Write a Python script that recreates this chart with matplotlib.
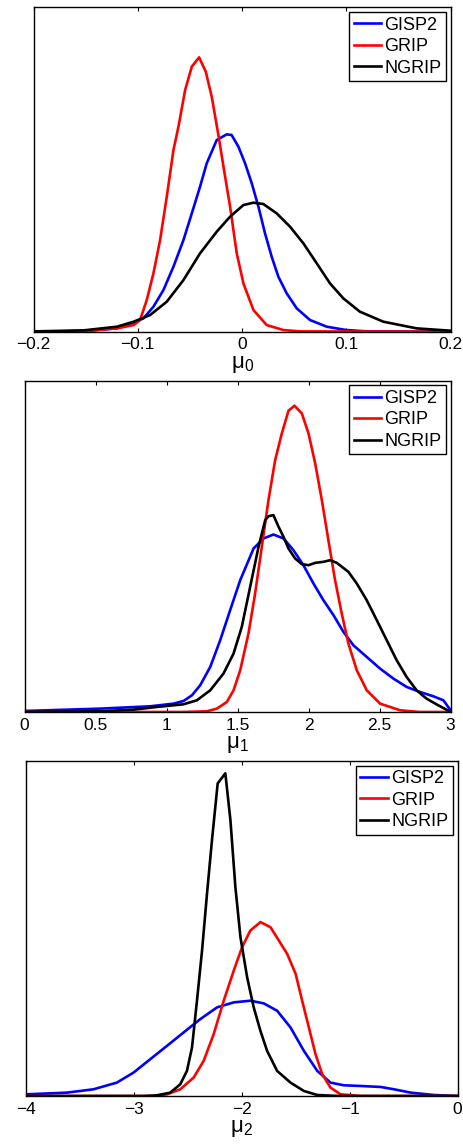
import matplotlib
matplotlib.use("Agg")
import matplotlib.pyplot as plt

plt.rcParams['font.family'] = ['Liberation Sans', 'DejaVu Sans']
plt.rcParams['mathtext.fontset'] = 'custom'
plt.rcParams['mathtext.rm'] = 'Liberation Sans'
plt.rcParams['mathtext.it'] = 'Liberation Sans'

## mu_0 posterior densities (arbitrary units)
mu0_gisp2_x = [-0.2, -0.152, -0.12, -0.104, -0.0946, -0.085, -0.0754, -0.0658, -0.0562, -0.0482,
               -0.0403, -0.0339, -0.0243, -0.0147, -0.010, -0.0035, 0.0029, 0.0093, 0.0157, 0.022,
               0.0284, 0.0348, 0.0428, 0.0524, 0.0652, 0.0812, 0.10, 0.12, 0.2]
mu0_gisp2_y = [0, 2, 10, 27, 40, 75, 125, 195, 275, 355,
               435, 505, 575, 592, 590, 555, 505, 445, 375, 295,
               225, 165, 115, 70, 35, 15, 5, 1, 0]
mu0_grip_x = [-0.2, -0.15, -0.12, -0.104, -0.0978, -0.0914, -0.085, -0.0786, -0.0722, -0.0658,
              -0.061, -0.0546, -0.0482, -0.0412, -0.0348, -0.0291, -0.0227, -0.0173, -0.0115, -0.0051,
              0.0013, 0.0109, 0.0236, 0.0396, 0.0556, 0.2]
mu0_grip_y = [0, 2, 10, 20, 35, 95, 175, 275, 405, 545,
              615, 725, 795, 823, 780, 705, 590, 485, 375, 235,
              145, 65, 20, 5, 1, 0]
mu0_ngrip_x = [-0.2, -0.152, -0.12, -0.104, -0.0882, -0.0722, -0.0562, -0.0403, -0.0243, -0.0115,
               0.0013, 0.0109, 0.0204, 0.0332, 0.046, 0.0588, 0.0716, 0.0843, 0.0971, 0.113,
               0.1355, 0.1674, 0.2]
mu0_ngrip_y = [1, 4, 15, 30, 50, 90, 155, 235, 300, 345,
               380, 387, 383, 355, 315, 265, 205, 145, 100, 60,
               30, 10, 3]

## mu_1
mu1_gisp2_x = [0, 0.532, 0.884, 1.049, 1.119, 1.178, 1.236, 1.307, 1.377, 1.447,
               1.518, 1.612, 1.682, 1.752, 1.823, 1.893, 1.963, 2.034, 2.104, 2.175,
               2.245, 2.315, 2.409, 2.503, 2.597, 2.69, 2.784, 2.878, 2.949, 3.0]
mu1_gisp2_y = [3, 10, 17, 25, 33, 50, 80, 135, 215, 305,
               395, 490, 520, 532, 520, 485, 440, 385, 335, 290,
               240, 200, 165, 130, 100, 75, 60, 47, 35, 5]
mu1_grip_x = [0, 1.119, 1.283, 1.354, 1.424, 1.471, 1.518, 1.576, 1.623, 1.670,
              1.717, 1.764, 1.811, 1.858, 1.900, 1.952, 1.999, 2.046, 2.093, 2.139,
              2.186, 2.233, 2.280, 2.339, 2.409, 2.503, 2.644, 2.78, 3.0]
mu1_grip_y = [0, 0, 2, 10, 30, 65, 125, 235, 355, 495,
              635, 755, 835, 903, 918, 895, 835, 745, 635, 515,
              395, 295, 205, 125, 65, 25, 5, 0, 0]
mu1_ngrip_x = [0, 0.532, 0.767, 0.931, 1.119, 1.213, 1.307, 1.40, 1.471, 1.529,
               1.588, 1.647, 1.694, 1.717, 1.752, 1.788, 1.823, 1.858, 1.905, 1.952,
               1.999, 2.046, 2.104, 2.151, 2.198, 2.28, 2.339, 2.409, 2.48, 2.55,
               2.62, 2.69, 2.76, 2.83, 2.90, 3.0]
mu1_ngrip_y = [0, 2, 7, 15, 23, 35, 65, 115, 175, 255,
               375, 495, 575, 587, 590, 555, 525, 490, 460, 443,
               440, 447, 450, 455, 447, 420, 385, 335, 275, 215,
               155, 105, 65, 40, 23, 0]

## mu_2
mu2_gisp2_x = [-4, -3.622, -3.375, -3.158, -3.003, -2.848, -2.693, -2.539, -2.384, -2.229,
               -2.074, -1.92, -1.796, -1.672, -1.548, -1.424, -1.30, -1.177, -1.053, -0.898,
               -0.712, -0.588, -0.433, -0.217, 0]
mu2_gisp2_y = [5, 10, 20, 40, 70, 110, 150, 190, 230, 265,
               280, 285, 277, 255, 205, 135, 75, 40, 32, 30,
               27, 20, 10, 3, 0]
mu2_grip_x = [-4, -2.8, -2.693, -2.57, -2.446, -2.353, -2.26, -2.167, -2.074, -1.997,
              -1.92, -1.827, -1.734, -1.656, -1.579, -1.50, -1.44, -1.378, -1.316, -1.254,
              -1.177, -1.084, -0.9, 0]
mu2_grip_y = [0, 0, 5, 20, 55, 105, 185, 285, 375, 445,
              495, 520, 505, 465, 425, 365, 285, 205, 125, 65,
              25, 5, 0, 0]
mu2_ngrip_x = [-4, -2.9, -2.786, -2.663, -2.57, -2.508, -2.461, -2.415, -2.368, -2.322,
               -2.276, -2.223, -2.152, -2.105, -2.059, -2.012, -1.95, -1.889, -1.827, -1.765,
               -1.672, -1.548, -1.424, -1.30, -1.1, 0]
mu2_ngrip_y = [0, 0, 2, 10, 35, 75, 145, 285, 435, 605,
               765, 935, 965, 825, 625, 475, 355, 265, 195, 135,
               75, 40, 15, 3, 0, 0]

panels = [
    dict(rect=[0.0722, 0.7103, 0.899, 0.2833], xlim=(-0.2, 0.2), ytop=973,
         ticks=[-0.2, -0.1, 0, 0.1, 0.2], labels=['\u22120.2', '\u22120.1', '0', '0.1', '0.2'],
         xlabel=r'$\mathrm{\mu}_0$',
         curves=[(mu0_gisp2_x, mu0_gisp2_y), (mu0_grip_x, mu0_grip_y), (mu0_ngrip_x, mu0_ngrip_y)]),
    dict(rect=[0.0532, 0.3782, 0.918, 0.2893], xlim=(0, 3), ytop=993,
         ticks=[0, 0.5, 1, 1.5, 2, 2.5, 3], labels=['0', '0.5', '1', '1.5', '2', '2.5', '3'],
         xlabel=r'$\mathrm{\mu}_1$',
         curves=[(mu1_gisp2_x, mu1_gisp2_y), (mu1_grip_x, mu1_grip_y), (mu1_ngrip_x, mu1_ngrip_y)]),
    dict(rect=[0.056, 0.0428, 0.930, 0.2926], xlim=(-4, 0), ytop=1002,
         ticks=[-4, -3, -2, -1, 0], labels=['\u22124', '\u22123', '\u22122', '\u22121', '0'],
         xlabel=r'$\mathrm{\mu}_2$',
         curves=[(mu2_gisp2_x, mu2_gisp2_y), (mu2_grip_x, mu2_grip_y), (mu2_ngrip_x, mu2_ngrip_y)]),
]

names = ['GISP2', 'GRIP', 'NGRIP']
colors = ['#0000ff', '#ff0000', '#000000']

fig = plt.figure(figsize=(4.64, 11.45), dpi=100)

for p in panels:
    ax = fig.add_axes(p['rect'])
    for (x, y), name, c in zip(p['curves'], names, colors):
        ax.plot(x, y, color=c, lw=1.9, label=name, solid_joinstyle='round')
    ax.set_xlim(*p['xlim'])
    ax.set_ylim(0, p['ytop'])
    ax.set_xticks(p['ticks'])
    ax.set_xticklabels(p['labels'])
    ax.set_yticks([])
    ax.tick_params(axis='x', direction='in', top=True, length=3, width=0.8,
                   labelsize=12.5, pad=4)
    for s in ax.spines.values():
        s.set_linewidth(1.0)
    ax.set_xlabel(p['xlabel'], fontsize=16, labelpad=1)
    leg = ax.legend(loc='upper right', fontsize=13, frameon=True, fancybox=False,
                    framealpha=1, edgecolor='black', handlelength=1.5,
                    handletextpad=0.2, borderpad=0.25, labelspacing=0.25,
                    borderaxespad=0.26)
    leg.get_frame().set_linewidth(1.0)

fig.savefig('out.png', dpi=100)
